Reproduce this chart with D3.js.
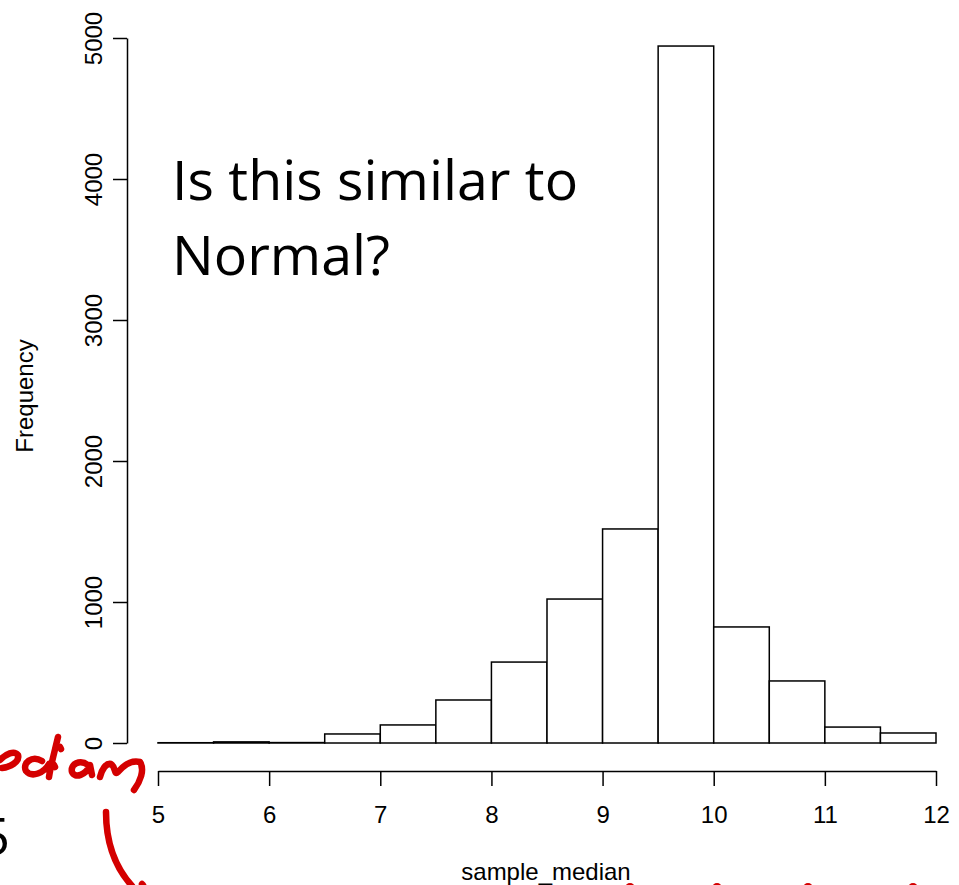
<!DOCTYPE html>
<html>
<head>
<meta charset="utf-8">
<script src="https://cdn.jsdelivr.net/npm/d3@7"></script>
<style>
  body { margin: 0; background: #fff; }
  svg { display: block; }
</style>
</head>
<body>
<div id="chart"></div>
<script>
// histogram of sample_median, bins of 0.5
const binEdges = [5, 5.5, 6, 6.5, 7, 7.5, 8, 8.5, 9, 9.5, 10, 10.5, 11, 11.5, 12]
const counts = [2, 8, 3, 64, 128, 305, 574, 1021, 1518, 4943, 823, 440, 113, 71]
const xTicks = [5, 6, 7, 8, 9, 10, 11, 12]
const yTicks = [0, 1000, 2000, 3000, 4000, 5000]

const W = 959
const H = 885
const axisFont = '"Liberation Sans", Arial, sans-serif'

const bins = counts.map((c, i) => ({ x0: binEdges[i], x1: binEdges[i + 1], n: c }))

const svg = d3
  .select('#chart')
  .append('svg')
  .attr('width', W)
  .attr('height', H)

const x = d3.scaleLinear().domain([5, 12]).range([158, 936])
const y = d3.scaleLinear().domain([0, 5000]).range([743, 38])

// bars
svg
  .selectAll('rect.bar')
  .data(bins)
  .enter()
  .append('rect')
  .attr('class', 'bar')
  .attr('x', d => x(d.x0))
  .attr('width', d => x(d.x1) - x(d.x0))
  .attr('y', d => y(d.n))
  .attr('height', d => y(0) - y(d.n))
  .attr('fill', 'white')
  .attr('stroke', 'black')
  .attr('stroke-width', 1.5)

// x axis
const xAxis = svg
  .append('g')
  .attr('transform', 'translate(0,771)')
  .call(
    d3
      .axisBottom(x)
      .tickValues(xTicks)
      .tickFormat(d3.format('d'))
      .tickSize(15)
      .tickSizeOuter(0)
      .tickPadding(20)
  )
xAxis.selectAll('path, line').attr('stroke', 'black').attr('stroke-width', 1.5)
xAxis
  .selectAll('text')
  .attr('font-family', axisFont)
  .attr('font-size', 24)
  .attr('fill', 'black')

// y axis
const yAxis = svg
  .append('g')
  .attr('transform', 'translate(127,0)')
  .call(
    d3
      .axisLeft(y)
      .tickValues(yTicks)
      .tickFormat(d3.format('d'))
      .tickSize(14)
      .tickSizeOuter(0)
  )
yAxis.selectAll('path, line').attr('stroke', 'black').attr('stroke-width', 1.5)
yAxis
  .selectAll('text')
  .attr('font-family', axisFont)
  .attr('font-size', 24)
  .attr('fill', 'black')
  .attr('x', 0)
  .attr('dy', 0)
  .attr('text-anchor', 'middle')
  .attr('transform', 'translate(-25,0) rotate(-90)')

// axis titles
svg
  .append('text')
  .attr('x', 546)
  .attr('y', 880)
  .attr('text-anchor', 'middle')
  .attr('font-family', axisFont)
  .attr('font-size', 24)
  .text('sample_median')

svg
  .append('text')
  .attr('transform', 'translate(33,396) rotate(-90)')
  .attr('text-anchor', 'middle')
  .attr('font-family', axisFont)
  .attr('font-size', 24)
  .text('Frequency')

// slide annotation
const note = svg
  .append('text')
  .attr('font-family', '"Open Sans", sans-serif')
  .attr('font-size', 55.5)
  .attr('fill', 'black')
note.append('tspan').attr('x', 172).attr('y', 200).text('Is this similar to')
note.append('tspan').attr('x', 172).attr('y', 275).text('Normal?')

// slide text clipped at the left edge (as in the source)
svg
  .append('text')
  .attr('x', 10)
  .attr('y', 855)
  .attr('text-anchor', 'end')
  .attr('font-family', '"Open Sans", sans-serif')
  .attr('font-size', 52)
  .text('5')

// red pen marks
const ink = svg
  .append('g')
  .attr('fill', 'none')
  .attr('stroke', '#d40000')
  .attr('stroke-width', 6.5)
  .attr('stroke-linecap', 'round')
  .attr('stroke-linejoin', 'round')

ink.append('path').attr('d', 'M0,760 C6,754 14,750 18,755 C20,762 10,767 2,768')
ink.append('path').attr('d', 'M42,761 C32,755 22,763 26,771 C32,778 44,773 49,764 M58,737 C55,750 51,764 49,777')
ink.append('path').attr('d', 'M60,747 L61,749 M54,765 L55,767')
ink.append('path').attr('d', 'M88,765 C80,759 70,764 72,772 C75,779 86,775 90,765 L92,775')
ink.append('path').attr('d', 'M100,777 C102,769 106,763 111,764 C116,767 114,776 118,772 C124,765 132,760 140,762 C145,770 140,782 134,790')
ink.append('path').attr('d', 'M106,812 C106,842 114,866 132,886')
ink.append('path').attr('d', 'M142,884 L143,885')

svg
  .append('g')
  .attr('fill', '#d40000')
  .selectAll('circle')
  .data([630, 717, 808, 913])
  .enter()
  .append('circle')
  .attr('cx', d => d)
  .attr('cy', 888)
  .attr('r', 5)
</script>
</body>
</html>
